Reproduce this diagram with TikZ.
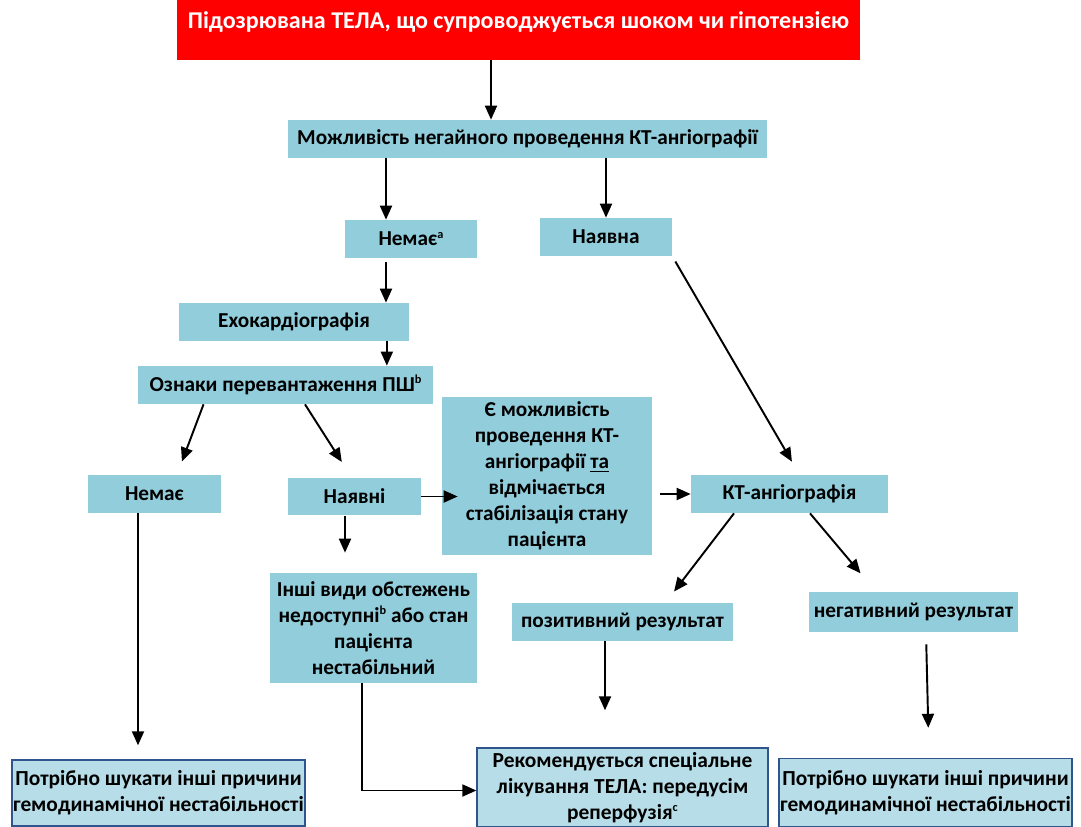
\documentclass[tikz,border=0pt]{standalone}
\usepackage{fontspec}
\setmainfont{Carlito}
\usetikzlibrary{arrows.meta,positioning,calc}
\definecolor{alarmRed}{RGB}{255,0,0}
\definecolor{stepAqua}{RGB}{146,205,220}
\definecolor{endAqua}{RGB}{183,222,232}
\definecolor{endBorder}{RGB}{47,85,140}
\newcommand{\fnmark}[1]{\raisebox{0.75ex}{\fontsize{7}{7}\selectfont #1}}

\begin{document}
\begin{tikzpicture}[x=0.02cm, y=-0.02cm,
  txt/.style={font=\bfseries\fontsize{12.1}{14.8}\selectfont, align=center, inner sep=0pt},
  alarm/.style={txt, fill=alarmRed, text=white, font=\bfseries\fontsize{13.7}{16}\selectfont},
  stepbox/.style={txt, fill=stepAqua, minimum height=0.76cm},
  endbox/.style={txt, draw=endBorder, thick, fill=endAqua, font=\bfseries\fontsize{12.2}{14.8}\selectfont},
  arr/.style={-{Triangle[length=2.8mm, width=2.4mm]}, line width=1.1pt, black}
]
  \useasboundingbox (0,0) rectangle (1081,827);

  % start
  \node[alarm, minimum width=13.66cm, text height=0.58cm, text depth=0.62cm] (susp) at (518.5,30) {Підозрювана ТЕЛА, що супроводжується шоком чи гіпотензією};
  \node[stepbox, minimum width=9.58cm] (ctq) at (527.5,139) {Можливість негайного проведення КТ-ангіографії};

  % no CT (left branch)
  \node[stepbox, minimum width=2.64cm] (noct) at (411,239) {Немає\fnmark{a}};
  \node[stepbox, minimum width=4.62cm] (echo) at (294,322) {Ехокардіографія};
  \node[stepbox, minimum width=5.9cm] (rvsign) at (285.5,385) {Ознаки перевантаження ПШ\fnmark{b}};
  \node[stepbox, minimum width=2.66cm] (norv) at (154.5,494) {Немає};
  \node[stepbox, minimum width=2.66cm] (rvyes) at (354.5,496.5) {Наявні};
  \node[stepbox, minimum width=4.2cm, minimum height=3.16cm] (stable) at (547,476) {Є можливість\\проведення КТ-\\ангіографії \underline{та}\\відмічається\\стабілізація стану\\пацієнта};
  \node[stepbox, minimum width=4.14cm, minimum height=2.2cm] (unstable) at (373.5,628) {Інші види обстежень\\недоступні\fnmark{b} або стан\\пацієнта\\нестабільний};

  % CT available (right branch)
  \node[stepbox, minimum width=2.64cm] (ctyes) at (606,237) {Наявна};
  \node[stepbox, minimum width=3.94cm] (cta) at (789.5,494) {КТ-ангіографія};
  \node[stepbox, minimum width=4.42cm] (pos) at (622.5,622) {позитивний результат};
  \node[stepbox, minimum width=4.18cm, minimum height=0.8cm] (neg) at (913.5,612) {негативний результат};

  % outcomes
  \node[endbox, minimum width=5.86cm, minimum height=1.32cm] (otherL) at (158.5,793) {Потрібно шукати інші причини\\гемодинамічної нестабільності};
  \node[endbox, minimum width=5.82cm, minimum height=1.58cm] (treat) at (622.5,787.5) {Рекомендується спеціальне\\лікування ТЕЛА: передусім\\реперфузія\fnmark{c}};
  \node[endbox, minimum width=5.86cm, minimum height=1.36cm] (otherR) at (925.5,792.5) {Потрібно шукати інші причини\\гемодинамічної нестабільності};

  \draw[arr] ([xshift=-0.55cm]susp.south) -- ([xshift=-0.55cm]susp.south |- ctq.north);
  \draw[arr] ([xshift=-0.5cm]noct.north |- ctq.south) -- ([xshift=-0.5cm]noct.north);
  \draw[arr] (ctyes.north |- ctq.south) -- (ctyes.north);
  \draw[arr, shorten <=0.08cm] ([xshift=-0.5cm]noct.south) -- ([xshift=-0.5cm]noct.south |- echo.north);
  \draw[arr] ([xshift=-0.46cm]echo.south east) -- ([xshift=-0.46cm]echo.south east |- rvsign.north);
  \draw[arr, shorten >=0.28cm] ([xshift=-1.64cm]rvsign.south) -- ([xshift=0.45cm]norv.north);
  \draw[arr, shorten >=0.36cm] ([xshift=0.39cm]rvsign.south) -- ([xshift=-0.06cm]rvyes.north);
  \draw[arr, shorten <=0.12cm, shorten >=0.3cm] (ctyes.south east) -- ([xshift=0.2cm]cta.north);
  \draw[arr, shorten >=-0.32cm] (rvyes.east) -- (rvyes.east -| stable.west);
  \draw[arr, shorten <=0.16cm] (stable.east |- cta.west) -- (cta.west);
  \draw[arr, shorten >=0.28cm] ([xshift=-0.33cm]norv.south) -- ([xshift=-0.33cm]norv.south |- otherL.north);
  \draw[arr, shorten >=0.4cm] ([xshift=-0.19cm]rvyes.south) -- ([xshift=-0.19cm]rvyes.south |- unstable.north);
  \draw[arr] ([xshift=-0.23cm]unstable.south) |- ([yshift=-0.06cm]treat.west);
  \draw[arr, shorten >=0.28cm] ([xshift=-1.11cm]cta.south) -- ([xshift=0.86cm]pos.north);
  \draw[arr, shorten >=0.48cm] ([xshift=0.41cm]cta.south) -- ([xshift=-0.75cm]neg.north);
  \draw[arr, shorten >=0.74cm] ([xshift=-0.35cm]pos.south) -- ([xshift=-0.35cm]pos.south |- treat.north);
  \draw[arr, shorten <=0.24cm, shorten >=0.6cm] ([xshift=0.25cm]neg.south) -- ([xshift=0.31cm]neg.south |- otherR.north);
\end{tikzpicture}
\end{document}
